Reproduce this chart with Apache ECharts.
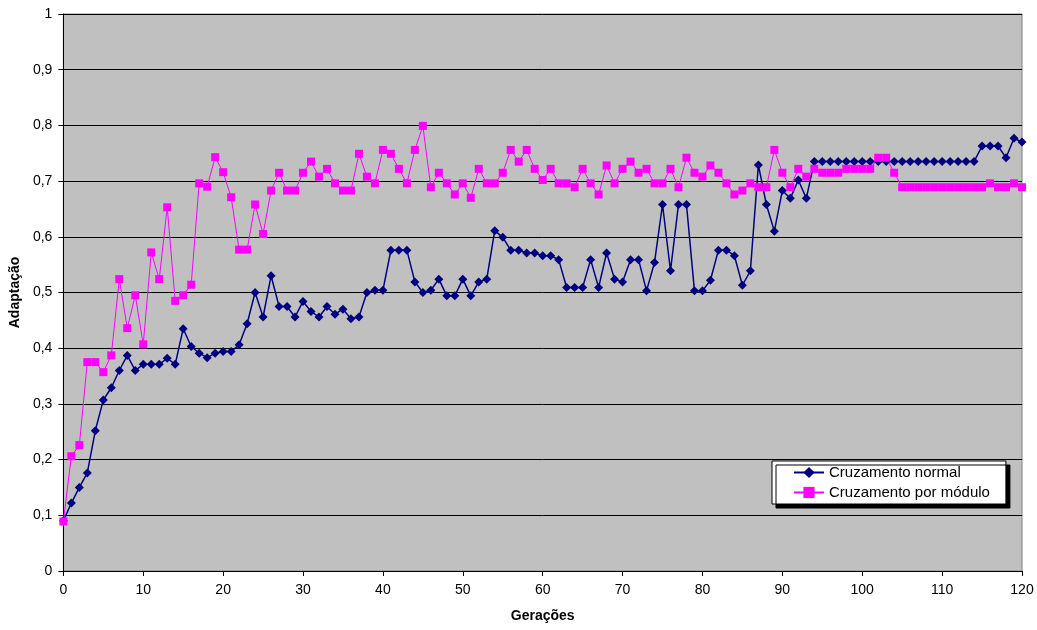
<!DOCTYPE html>
<html>
<head>
<meta charset="utf-8">
<script src="https://cdn.jsdelivr.net/npm/echarts@6/dist/echarts.min.js"></script>
<style>
	html, body { margin: 0; padding: 0; background: #fff; }
	#main { width: 1037px; height: 630px; }
</style>
</head>
<body>
<div id="main"></div>
<script>
// Adaptação por geração
var seriesNames = ["Cruzamento normal", "Cruzamento por módulo"];
var xTicks = [0, 10, 20, 30, 40, 50, 60, 70, 80, 90, 100, 110, 120];
var yTicks = [0, 0.1, 0.2, 0.3, 0.4, 0.5, 0.6, 0.7, 0.8, 0.9, 1];

var normal = [
	0.090, 0.122, 0.150, 0.176, 0.252, 0.307, 0.329, 0.360, 0.387, 0.360,
	0.371, 0.371, 0.371, 0.382, 0.371, 0.435, 0.403, 0.391, 0.383, 0.391,
	0.394, 0.394, 0.406, 0.444, 0.500, 0.456, 0.530, 0.475, 0.475, 0.456,
	0.484, 0.466, 0.456, 0.475, 0.461, 0.470, 0.453, 0.456, 0.500, 0.504,
	0.504, 0.576, 0.576, 0.576, 0.519, 0.500, 0.504, 0.524, 0.494, 0.494,
	0.524, 0.494, 0.519, 0.524, 0.611, 0.599, 0.576, 0.576, 0.571, 0.571,
	0.566, 0.566, 0.559, 0.509, 0.509, 0.509, 0.559, 0.509, 0.571, 0.524,
	0.519, 0.559, 0.559, 0.503, 0.554, 0.658, 0.539, 0.658, 0.658, 0.503,
	0.503, 0.522, 0.576, 0.576, 0.566, 0.513, 0.539, 0.729, 0.658, 0.610,
	0.683, 0.669, 0.702, 0.669, 0.735, 0.735, 0.735, 0.735, 0.735, 0.735,
	0.735, 0.735, 0.735, 0.735, 0.735, 0.735, 0.735, 0.735, 0.735, 0.735,
	0.735, 0.735, 0.735, 0.735, 0.735, 0.763, 0.763, 0.763, 0.742, 0.777,
	0.770
];

var modulo = [
	0.089, 0.206, 0.226, 0.375, 0.375, 0.357, 0.387, 0.524, 0.436, 0.495,
	0.407, 0.572, 0.524, 0.653, 0.485, 0.495, 0.514, 0.696, 0.690, 0.743,
	0.716, 0.671, 0.577, 0.577, 0.658, 0.605, 0.683, 0.715, 0.683, 0.683,
	0.715, 0.735, 0.708, 0.722, 0.696, 0.683, 0.683, 0.749, 0.708, 0.696,
	0.756, 0.749, 0.722, 0.696, 0.756, 0.799, 0.689, 0.715, 0.696, 0.676,
	0.696, 0.670, 0.722, 0.696, 0.696, 0.715, 0.756, 0.735, 0.756, 0.722,
	0.702, 0.722, 0.696, 0.696, 0.689, 0.722, 0.696, 0.676, 0.728, 0.696,
	0.722, 0.735, 0.715, 0.722, 0.696, 0.696, 0.722, 0.689, 0.742, 0.715,
	0.708, 0.728, 0.715, 0.696, 0.676, 0.683, 0.696, 0.689, 0.689, 0.756,
	0.715, 0.689, 0.722, 0.708, 0.722, 0.715, 0.715, 0.715, 0.722, 0.722,
	0.722, 0.722, 0.742, 0.742, 0.715, 0.689, 0.689, 0.689, 0.689, 0.689,
	0.689, 0.689, 0.689, 0.689, 0.689, 0.689, 0.696, 0.689, 0.689, 0.696,
	0.689
];

// cada valor vai na sua geração (indice)
function toPairs(values) {
	var pairs = [];
	for (var i = 0; i < values.length; i++) {
		pairs.push([i, values[i]]);
	}
	return pairs;
}

var font = "'Liberation Sans', Arial, sans-serif";
var myChart = echarts.init(document.getElementById('main'), null, {renderer: 'canvas'});

var option = {
	animation: false,
	textStyle: { fontFamily: font },
	grid: {
		left: 63, right: 15, top: 14, bottom: 59,
		show: true,
		backgroundColor: '#C0C0C0',
		borderColor: '#808080',
		borderWidth: 1
	},
	legend: {
		data: seriesNames,
		orient: 'vertical',
		left: 772,
		top: 461,
		padding: [4, 16, 4, 21],
		itemGap: 5,
		itemWidth: 30,
		itemHeight: 14,
		backgroundColor: '#FFFFFF',
		borderColor: '#000000',
		borderWidth: 1,
		shadowColor: '#000000',
		shadowBlur: 0,
		shadowOffsetX: 4,
		shadowOffsetY: 4,
		textStyle: { fontFamily: font, fontSize: 15, color: '#000' }
	},
	xAxis: {
		type: 'value',
		min: xTicks[0],
		max: xTicks[xTicks.length - 1],
		interval: 10,
		name: 'Gerações',
		nameLocation: 'middle',
		nameGap: 38,
		nameTextStyle: { fontFamily: font, fontSize: 14, fontWeight: 'bold', color: '#000' },
		axisLine: { lineStyle: { color: '#000', width: 1 } },
		axisTick: { show: true, length: 5, lineStyle: { color: '#000' } },
		axisLabel: { fontFamily: font, fontSize: 14, color: '#000', margin: 12 },
		splitLine: { show: false }
	},
	yAxis: {
		type: 'value',
		min: yTicks[0],
		max: yTicks[yTicks.length - 1],
		interval: 0.1,
		name: 'Adaptação',
		nameLocation: 'middle',
		nameGap: 39,
		nameTextStyle: { fontFamily: font, fontSize: 14, fontWeight: 'bold', color: '#000' },
		axisLine: { show: true, lineStyle: { color: '#000', width: 1 } },
		axisTick: { show: true, length: 5, lineStyle: { color: '#000' } },
		axisLabel: {
			fontFamily: font, fontSize: 14, color: '#000', margin: 11,
			formatter: function(v) {
				return String(Math.round(v * 10) / 10).replace('.', ',');
			}
		},
		splitLine: { show: true, lineStyle: { color: '#000', width: 1 } }
	},
	series: [
		{
			name: seriesNames[0],
			type: 'line',
			data: toPairs(normal),
			symbol: 'diamond',
			symbolSize: 9,
			color: '#000080',
			lineStyle: { color: '#000080', width: 1.5 },
			itemStyle: { color: '#000080' }
		},
		{
			name: seriesNames[1],
			type: 'line',
			data: toPairs(modulo),
			symbol: 'rect',
			symbolSize: 8,
			color: '#FF00FF',
			lineStyle: { color: '#FF00FF', width: 1 },
			itemStyle: { color: '#FF00FF' }
		}
	]
};
myChart.setOption(option);
</script>
</body>
</html>
